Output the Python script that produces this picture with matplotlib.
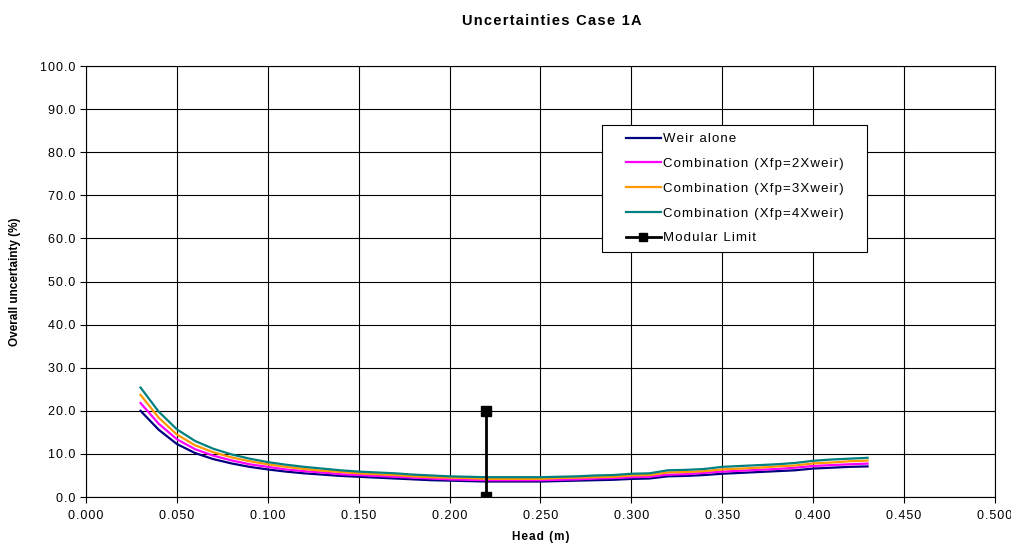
import matplotlib
matplotlib.use("Agg")
import matplotlib.pyplot as plt
from matplotlib.patches import Rectangle
from matplotlib.ticker import FuncFormatter

# head values (m)
head = [0.03, 0.04, 0.05, 0.06, 0.07, 0.08, 0.09, 0.10, 0.11, 0.12,
        0.13, 0.14, 0.15, 0.16, 0.17, 0.18, 0.19, 0.20, 0.21, 0.22,
        0.23, 0.24, 0.25, 0.26, 0.27, 0.28, 0.29, 0.30, 0.31, 0.32,
        0.33, 0.34, 0.35, 0.36, 0.37, 0.38, 0.39, 0.40, 0.41, 0.42, 0.43]

weir_alone = [20.0, 15.6, 12.3, 10.2, 8.8, 7.8, 7.0, 6.4, 5.9, 5.5,
              5.2, 4.9, 4.7, 4.5, 4.3, 4.1, 3.9, 3.8, 3.7, 3.6,
              3.6, 3.6, 3.6, 3.7, 3.8, 3.9, 4.0, 4.2, 4.3, 4.8,
              4.9, 5.1, 5.4, 5.6, 5.8, 6.0, 6.2, 6.6, 6.8, 7.0, 7.1]
comb_2x = [21.8, 17.0, 13.4, 11.1, 9.6, 8.5, 7.6, 7.0, 6.4, 6.0,
           5.7, 5.3, 5.1, 4.9, 4.7, 4.5, 4.3, 4.1, 4.0, 3.9,
           3.9, 3.9, 3.9, 4.0, 4.1, 4.3, 4.4, 4.6, 4.7, 5.2,
           5.3, 5.6, 5.9, 6.1, 6.3, 6.5, 6.8, 7.2, 7.4, 7.6, 7.75]
comb_3x = [23.7, 18.4, 14.5, 12.0, 10.4, 9.2, 8.3, 7.6, 7.0, 6.5,
           6.1, 5.8, 5.5, 5.3, 5.1, 4.8, 4.6, 4.5, 4.4, 4.2,
           4.2, 4.2, 4.2, 4.4, 4.5, 4.6, 4.7, 5.0, 5.1, 5.7,
           5.8, 6.0, 6.4, 6.6, 6.8, 7.1, 7.3, 7.8, 8.0, 8.3, 8.45]
comb_4x = [25.4, 19.8, 15.7, 13.0, 11.2, 9.9, 8.9, 8.1, 7.5, 7.0,
           6.6, 6.2, 5.9, 5.7, 5.5, 5.2, 5.0, 4.8, 4.7, 4.6,
           4.6, 4.6, 4.6, 4.7, 4.8, 5.0, 5.1, 5.4, 5.5, 6.2,
           6.3, 6.5, 7.0, 7.2, 7.4, 7.6, 7.9, 8.4, 8.7, 8.9, 9.1]

modular_x = [0.22, 0.22]
modular_y = [0.0, 20.0]

series_labels = ["Weir alone", "Combination (Xfp=2Xweir)",
                 "Combination (Xfp=3Xweir)", "Combination (Xfp=4Xweir)",
                 "Modular Limit"]
series_colors = ["#000080", "#ff00ff", "#ff9900", "#008080", "black"]

plt.rcParams["font.family"] = ["Liberation Sans", "DejaVu Sans"]


def spaced(s):
    # old Excel charts draw text with a bit of letter spacing
    return "\u200a".join(s)


fig = plt.figure(figsize=(10.12, 5.46), dpi=100)
ax = fig.add_axes([0.085, 0.0897, 0.898, 0.7894])

for ys, lab, col in zip([weir_alone, comb_2x, comb_3x, comb_4x],
                        series_labels[:4], series_colors[:4]):
    ax.plot(head, ys, color=col, lw=1.6, label=spaced(lab))
ax.plot(modular_x, modular_y, color=series_colors[4], lw=2, marker="s", ms=7,
        label=spaced(series_labels[4]))

ax.set_xlim(0, 0.5)
ax.set_ylim(0, 100)
ax.set_xticks([i * 0.05 for i in range(11)])
ax.set_yticks([i * 10 for i in range(11)])
ax.xaxis.set_major_formatter(FuncFormatter(lambda v, p: spaced(f"{v:.3f}")))
ax.yaxis.set_major_formatter(FuncFormatter(lambda v, p: spaced(f"{v:.1f}")))
ax.tick_params(labelsize=9, direction="out", length=4, color="black")
ax.tick_params(axis="x", pad=5)
ax.grid(True, color="black", lw=0.8)
ax.set_axisbelow(True)
for s in ax.spines.values():
    s.set_color("black")
    s.set_linewidth(0.8)

ax.set_xlabel(spaced("Head (m)"), fontsize=8.5, fontweight="bold", labelpad=7)
ax.set_ylabel("Overall uncertainty (%)", fontsize=8.5, fontweight="bold",
              labelpad=14)
fig.suptitle(spaced("Uncertainties Case 1A"), x=0.545, y=0.975, fontsize=10.5,
             fontweight="bold")

# legend without its own frame; a wider box is drawn behind it
leg = ax.legend(loc="upper left", bbox_to_anchor=(0.585, 0.863), fontsize=9.5,
                frameon=False, handlelength=2.7, borderpad=0.6,
                labelspacing=0.95, handletextpad=0.1, borderaxespad=0,
                markerscale=0.85)
fig.canvas.draw()
bb = leg.get_window_extent().transformed(ax.transAxes.inverted())
padx = 16 / ax.get_window_extent().width
box = Rectangle((bb.x0 - padx, bb.y0), bb.width + 2 * padx, bb.height,
                transform=ax.transAxes, facecolor="white", edgecolor="black",
                lw=0.8, zorder=4.5)
ax.add_patch(box)

plt.savefig("out.png", dpi=100)
